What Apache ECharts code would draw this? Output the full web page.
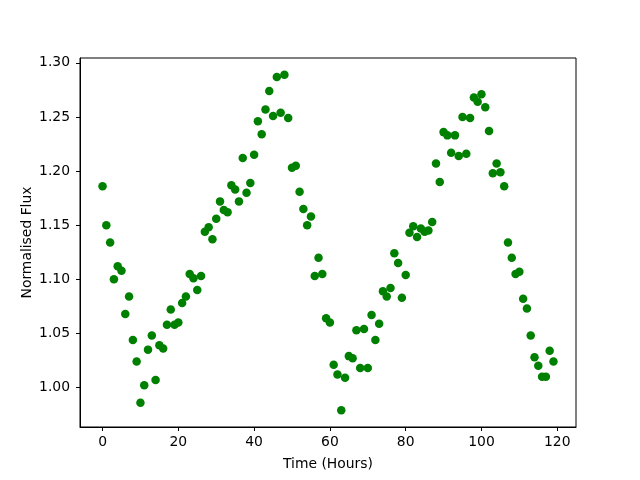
<!DOCTYPE html>
<html><head><meta charset="utf-8">
<script src="https://cdn.jsdelivr.net/npm/echarts@6/dist/echarts.min.js"></script>
<style>html,body{margin:0;padding:0;background:#fff}#c{width:640px;height:480px}</style>
</head><body><div id="c"></div>
<script>
const hours = Array.from({length:120},(_,i)=>i);
const flux = [
1.186,1.150,1.134,1.100,1.112,1.108,1.068,1.084,1.044,1.024,
0.986,1.002,1.035,1.048,1.007,1.039,1.036,1.058,1.072,1.058,
1.060,1.078,1.084,1.105,1.101,1.090,1.103,1.144,1.148,1.137,
1.156,1.172,1.164,1.162,1.187,1.183,1.172,1.212,1.180,1.189,
1.215,1.246,1.234,1.257,1.274,1.251,1.287,1.254,1.289,1.249,
1.203,1.205,1.181,1.165,1.150,1.158,1.103,1.120,1.105,1.064,
1.060,1.021,1.012,0.979,1.009,1.029,1.027,1.053,1.018,1.054,
1.018,1.067,1.044,1.059,1.089,1.084,1.092,1.124,1.115,1.083,
1.104,1.143,1.149,1.139,1.147,1.144,1.145,1.153,1.207,1.190,
1.236,1.233,1.217,1.233,1.214,1.250,1.216,1.249,1.268,1.264,
1.271,1.259,1.237,1.198,1.207,1.199,1.186,1.134,1.120,1.105,
1.107,1.082,1.073,1.048,1.028,1.020,1.010,1.010,1.034,1.024];
const xTicks = [0,20,40,60,80,100,120];
const yTicks = [1.00,1.05,1.10,1.15,1.20,1.25,1.30];

const font = 'DejaVu Sans';
const fs = 13.9;
const chart = echarts.init(document.getElementById('c'), null, {renderer:'canvas'});
chart.setOption({
  animation:false,
  backgroundColor:'#fff',
  grid:{left:80,right:64,top:58,bottom:53,show:true,borderColor:'#000',borderWidth:1,backgroundColor:'transparent'},
  xAxis:{type:'value',min:-5.95,max:124.95,
    name:'Time (Hours)',nameLocation:'middle',nameGap:30,nameMoveOverlap:false,
    nameTextStyle:{fontFamily:font,fontSize:fs,color:'#000'},
    axisLine:{show:true,onZero:false,lineStyle:{color:'#000',width:1}},
    axisTick:{show:true,length:4,lineStyle:{color:'#000'},customValues:xTicks},
    axisLabel:{fontFamily:font,fontSize:fs,color:'#000',margin:8,customValues:xTicks,showMinLabel:true,showMaxLabel:true},
    splitLine:{show:false}},
  yAxis:{type:'value',min:0.9635,max:1.3045,
    name:'Normalised Flux',nameLocation:'middle',nameGap:46,nameMoveOverlap:false,
    nameTextStyle:{fontFamily:font,fontSize:fs,color:'#000'},
    axisLine:{show:true,onZero:false,lineStyle:{color:'#000',width:1}},
    axisTick:{show:true,length:4,lineStyle:{color:'#000'},customValues:yTicks},
    axisLabel:{fontFamily:font,fontSize:fs,color:'#000',margin:10,customValues:yTicks,formatter:v=>v.toFixed(2)},
    splitLine:{show:false}},
  series:[{type:'scatter',data:hours.map((h,i)=>[h,flux[i]]),symbolSize:8.5,
    itemStyle:{color:'#008000',opacity:1}}]
});
</script></body></html>
